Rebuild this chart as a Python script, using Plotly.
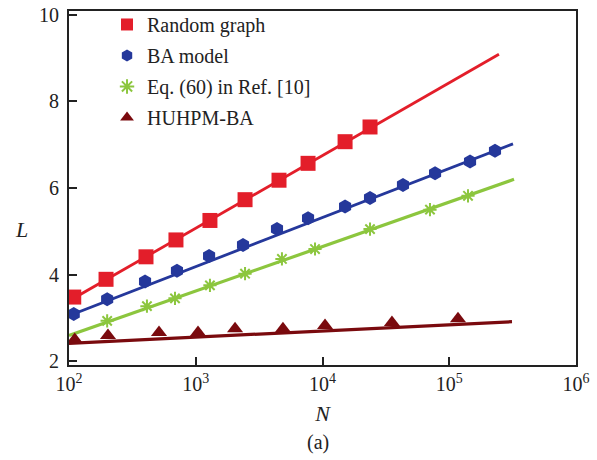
import plotly.graph_objects as go

# Average path length L versus network size N
rand_N = [109, 196, 405, 698, 1294, 2449, 4538, 7691, 15070, 23710]
rand_L = [3.48, 3.89, 4.41, 4.80, 5.25, 5.73, 6.18, 6.57, 7.07, 7.41]
rand_fit_N = [100, 246600]
rand_fit_L = [3.39, 9.09]

ba_N = [109, 200, 398, 711, 1274, 2360, 4375, 7691, 15070, 23710, 43150, 77270, 145900, 229600]
ba_L = [3.09, 3.43, 3.84, 4.09, 4.43, 4.68, 5.05, 5.30, 5.57, 5.77, 6.07, 6.34, 6.61, 6.86]
ba_fit_N = [100, 318400]
ba_fit_L = [3.05, 7.02]

eq_N = [200, 412, 686, 1294, 2449, 4786, 8730, 23710, 70470, 140600]
eq_L = [2.93, 3.27, 3.45, 3.75, 4.02, 4.36, 4.59, 5.05, 5.50, 5.82]
eq_fit_N = [100, 324300]
eq_fit_L = [2.59, 6.20]

hu_N = [111, 203, 513, 1042, 2042, 4875, 10470, 35320, 117200]
hu_L = [2.50, 2.59, 2.66, 2.66, 2.75, 2.75, 2.82, 2.89, 2.98]
hu_fit_N = [100, 312600]
hu_fit_L = [2.41, 2.91]

x_tickvals = [1e2, 1e3, 1e4, 1e5, 1e6]
x_ticktext = ["10<sup>2</sup>", "10<sup>3</sup>", "10<sup>4</sup>", "10<sup>5</sup>", "10<sup>6</sup>"]
y_tickvals = [2, 4, 6, 8, 10]

series = [
    ("Random graph", rand_N, rand_L, rand_fit_N, rand_fit_L, "#e31e2a", "square", 15, 2.8),
    ("BA model", ba_N, ba_L, ba_fit_N, ba_fit_L, "#25389b", "hexagon", 14, 2.8),
    ("Eq. (60) in Ref. [10]", eq_N, eq_L, eq_fit_N, eq_fit_L, "#8cc63e", "asterisk-open", 11, 3.2),
    ("HUHPM-BA", hu_N, hu_L, hu_fit_N, hu_fit_L, "#7a0a0e", "triangle-up", 14, 3.2),
]

fig = go.Figure()
for i, (name, xn, yl, fx, fy, col, sym, sz, lw) in enumerate(series):
    fig.add_trace(go.Scatter(x=fx, y=fy, mode="lines", line=dict(color=col, width=lw),
                             showlegend=False, hoverinfo="skip"))
    mk = dict(color=col, symbol=sym, size=sz)
    if sym == "asterisk-open":
        mk["line"] = dict(color=col, width=2)
    fig.add_trace(go.Scatter(x=xn, y=yl, mode="markers", name=name, marker=mk,
                             legendgroup=f"g{i}"))

serif = "Liberation Serif, Times New Roman, serif"
fig.update_layout(
    width=597, height=460,
    margin=dict(l=69, r=21, t=5, b=95),
    paper_bgcolor="white", plot_bgcolor="white",
    font=dict(family=serif, size=20, color="#222"),
    showlegend=True,
    legend=dict(x=0.075, y=1.017, xanchor="left", yanchor="top",
                bgcolor="rgba(0,0,0,0)", font=dict(family=serif, size=20, color="#222"),
                traceorder="grouped", tracegroupgap=2, itemsizing="constant"),
    xaxis=dict(type="log", range=[2, 6], tickvals=x_tickvals, ticktext=x_ticktext,
               ticks="inside", ticklen=8, tickwidth=1.5, tickcolor="#222",
               showline=True, linecolor="#222", linewidth=1.8, mirror=True,
               showgrid=False, zeroline=False, ticklabeloverflow="allow",
               title=dict(text="<i>N</i>", font=dict(family=serif, size=22), standoff=12)),
    yaxis=dict(range=[1.91, 10.09], tickvals=y_tickvals,
               ticks="inside", ticklen=8, tickwidth=1.5, tickcolor="#222",
               showline=True, linecolor="#222", linewidth=1.8, mirror=True,
               showgrid=False, zeroline=False, ticklabelstandoff=4,
               ticklabeloverflow="allow"),
    annotations=[
        dict(text="<i>L</i>", x=-0.093, y=0.383, xref="paper", yref="paper",
             xanchor="center", yanchor="middle", showarrow=False,
             font=dict(family=serif, size=22, color="#222")),
        dict(text="(a)", x=0.491, y=-0.22, xref="paper", yref="paper",
             xanchor="center", yanchor="middle", showarrow=False,
             font=dict(family=serif, size=20, color="#222")),
    ],
)

fig.write_html("out.html")
